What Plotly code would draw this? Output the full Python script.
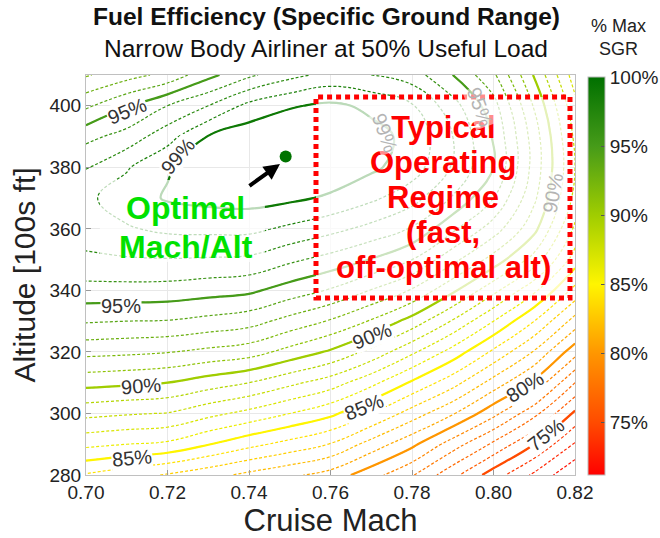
import numpy as np
import plotly.graph_objects as go

# ---- data (% of max SGR) ----
mach = [0.70, 0.71, 0.72, 0.73, 0.74, 0.75, 0.76, 0.77, 0.78, 0.79, 0.80, 0.81, 0.82]
alt = [280, 290, 300, 310, 320, 330, 340, 350, 360, 370, 380, 390, 400, 410]

sgr_m070 = [83.9, 86.25, 88.3, 90.35, 92.3, 94.1, 95.65, 96.8, 97.5, 97.8, 96.95, 95.7, 93.8, 91.9]
sgr_m071 = [83.4, 86.0, 88.1, 90.2, 92.2, 94.0, 95.65, 96.9, 97.9, 98.5, 97.9, 96.4, 94.9, 92.6]
sgr_m072 = [82.9, 85.8, 87.95, 90.0, 92.05, 93.95, 95.6, 96.95, 98.2, 99.1, 98.9, 97.6, 96.0, 93.3]
sgr_m073 = [82.35, 85.05, 87.3, 89.5, 91.75, 93.7, 95.4, 96.9, 98.25, 99.3, 99.5, 99.05, 97.0, 94.7]
sgr_m074 = [81.75, 84.3, 86.7, 89.0, 91.45, 93.4, 95.2, 96.8, 98.25, 99.4, 99.9, 99.6, 98.3, 95.8]
sgr_m075 = [81.2, 83.65, 86.0, 88.25, 90.65, 92.65, 94.55, 96.2, 97.8, 99.2, 99.95, 99.85, 98.9, 96.7]
sgr_m076 = [80.6, 82.95, 85.25, 87.5, 89.85, 91.9, 93.9, 95.65, 97.3, 98.85, 99.7, 99.75, 99.2, 97.3]
sgr_m077 = [79.4, 81.6, 84.0, 86.3, 88.7, 90.9, 92.95, 94.95, 96.7, 98.2, 99.2, 99.3, 98.8, 97.0]
sgr_m078 = [78.1, 80.25, 82.55, 84.85, 87.2, 89.6, 91.9, 94.0, 95.9, 97.4, 98.5, 98.75, 98.1, 96.5]
sgr_m079 = [76.3, 78.5, 81.1, 83.4, 85.6, 87.9, 90.2, 92.3, 94.2, 95.9, 96.9, 97.0, 96.4, 95.0]
sgr_m080 = [74.5, 76.8, 79.3, 81.6, 83.8, 86.0, 88.3, 90.6, 92.5, 94.0, 95.0, 94.9, 94.4, 93.2]
sgr_m081 = [72.8, 75.0, 77.3, 79.8, 81.9, 84.0, 86.2, 88.6, 90.3, 91.2, 91.6, 91.5, 90.9, 89.9]
sgr_m082 = [71.1, 72.9, 74.8, 77.0, 79.4, 81.6, 83.7, 85.5, 86.8, 87.7, 88.0, 87.8, 87.3, 86.5]

opt_mach = [0.749]
opt_alt = [383.5]

x_ticks = [0.70, 0.72, 0.74, 0.76, 0.78, 0.80, 0.82]
y_ticks = [280, 300, 320, 340, 360, 380, 400]
cbar_ticks = [75, 80, 85, 90, 95, 100]
cbar_labels = ["75%", "80%", "85%", "90%", "95%", "100%"]

minor_levels = list(range(72, 100))        # 72 .. 99 (%), dotted
major_levels = [75, 80, 85, 90, 95]         # solid
peak_level = 99                             # solid

# contour label positions (Mach, Alt, level, angle, faded)
label_mach = [0.7101, 0.7226, 0.7086, 0.7135, 0.7113, 0.7702, 0.7683, 0.8077, 0.8128, 0.7734, 0.7967, 0.8146]
label_alt = [398.4, 383.6, 335.0, 309.0, 285.5, 325.2, 302.1, 308.6, 293.0, 391.2, 399.6, 371.6]
label_val = [95, 99, 95, 90, 85, 90, 85, 80, 75, 99, 95, 90]
label_ang = [-22, -50, 0, -4, -5, -22, -22, -32, -38, 70, 70, -80]
label_faint = [0, 0, 0, 0, 0, 0, 0, 0, 0, 1, 1, 1]

# ---- colour map (% value -> rgb) ----
cm_vals = [71.2, 75, 80, 85, 90, 95, 100]
cm_rgb = [(255, 0, 0), (255, 75, 0), (255, 150, 0), (255, 245, 0), (160, 205, 0), (70, 155, 25), (0, 112, 0)]


def cmap(v):
    r = np.interp(v, cm_vals, [c[0] for c in cm_rgb])
    g = np.interp(v, cm_vals, [c[1] for c in cm_rgb])
    b = np.interp(v, cm_vals, [c[2] for c in cm_rgb])
    return "rgb(%d,%d,%d)" % (round(r), round(g), round(b))


def level_scale(levels):
    if len(levels) == 1:
        return [[0, cmap(levels[0])], [1, cmap(levels[0])]]
    lo, hi = levels[0], levels[-1]
    return [[(lv - lo) / (hi - lo), cmap(lv)] for lv in levels]


full_scale = [[(v - cm_vals[0]) / (cm_vals[-1] - cm_vals[0]), cmap(v)] for v in cm_vals]

# ---- build grid ----
columns = [sgr_m070, sgr_m071, sgr_m072, sgr_m073, sgr_m074, sgr_m075, sgr_m076,
           sgr_m077, sgr_m078, sgr_m079, sgr_m080, sgr_m081, sgr_m082]
z = np.array(columns).T  # rows = altitude, cols = mach

FONT = "Liberation Sans, Arial, sans-serif"

fig = go.Figure()


def add_contours(levels, width, dash):
    fig.add_trace(go.Contour(
        x=mach, y=alt, z=z, autocontour=False,
        colorscale=level_scale(levels), showscale=False,
        contours=dict(coloring="lines", start=levels[0], end=levels[-1],
                      size=(levels[1] - levels[0]) if len(levels) > 1 else 1, showlabels=False),
        line=dict(width=width, dash=dash, smoothing=1.2),
        hoverinfo="skip",
    ))


add_contours(minor_levels, 1.2, "3px,2px")
add_contours(major_levels, 2.2, "solid")
add_contours([peak_level], 2.2, "solid")

# optimum point
fig.add_trace(go.Scatter(
    x=opt_mach, y=opt_alt, mode="markers",
    marker=dict(size=12, color="rgb(0,115,0)"),
    hoverinfo="skip", showlegend=False,
))

# continuous colorbar carrier
fig.add_trace(go.Scatter(
    x=opt_mach, y=opt_alt, mode="markers", hoverinfo="skip", showlegend=False,
    marker=dict(size=0.1, opacity=0, color=[cm_vals[0], cm_vals[-1]], cmin=cm_vals[0], cmax=cm_vals[-1],
                colorscale=full_scale, showscale=True,
                colorbar=dict(
                    x=1.0266, xanchor="left", xpad=0, y=0, yanchor="bottom", ypad=0,
                    lenmode="pixels", len=398, thickness=17,
                    outlinecolor="#bbbbbb", outlinewidth=1,
                    tickmode="array", tickvals=cbar_ticks, ticktext=cbar_labels,
                    ticks="inside", ticklen=4, tickcolor="#555555",
                    tickfont=dict(family=FONT, size=19, color="#222222"),
                )),
))

annotations = [
    dict(text="<b>Fuel Efficiency (Specific Ground Range)</b>", xref="paper", yref="paper",
         x=0.4908, y=1.145, xanchor="center", yanchor="middle", showarrow=False,
         font=dict(family=FONT, size=24.5, color="#111111")),
    dict(text="Narrow Body Airliner at 50% Useful Load", xref="paper", yref="paper",
         x=0.4908, y=1.0675, xanchor="center", yanchor="middle", showarrow=False,
         font=dict(family=FONT, size=24.5, color="#111111")),
    dict(text="% Max<br>SGR", xref="paper", yref="paper", x=1.088, y=1.094,
         xanchor="center", yanchor="middle", showarrow=False,
         font=dict(family=FONT, size=18, color="#222222")),
]

red_lines = ["Typical", "Operating", "Regime", "(fast,", "off-optimal alt)"]
red_alt = [393.1, 381.7, 370.35, 358.9, 347.6]
for t, a in zip(red_lines, red_alt):
    annotations.append(dict(text="<b>%s</b>" % t, xref="x", yref="y", x=0.7877, y=a,
                            xanchor="center", yanchor="middle", showarrow=False,
                            font=dict(family=FONT, size=31, color="rgb(255,0,0)")))

green_lines = ["Optimal", "Mach/Alt"]
green_alt = [366.8, 354.1]
for t, a in zip(green_lines, green_alt):
    annotations.append(dict(text="<b>%s</b>" % t, xref="x", yref="y", x=0.7245, y=a,
                            xanchor="center", yanchor="middle", showarrow=False,
                            font=dict(family=FONT, size=32, color="rgb(0,225,0)")))

annotations.append(dict(text="", xref="x", yref="y", x=0.7476, y=381.1, ax=-32, ay=23,
                        showarrow=True, arrowhead=2, arrowsize=0.8, arrowwidth=4, arrowcolor="black"))

for lm, la, lv, ang, faint in zip(label_mach, label_alt, label_val, label_ang, label_faint):
    annotations.append(dict(
        text="%d%%" % lv, xref="x", yref="y", x=lm, y=la, textangle=ang,
        xanchor="center", yanchor="middle", showarrow=False, borderpad=0,
        bgcolor="rgba(255,255,255,0.55)" if faint else "white",
        font=dict(family=FONT, size=20, color="#b4b4b4" if faint else "#333333"),
    ))

fig.update_layout(
    width=660, height=538, autosize=False,
    margin=dict(l=86, r=85, t=75, b=63, autoexpand=False),
    paper_bgcolor="white", plot_bgcolor="white",
    showlegend=False,
    font=dict(family=FONT, color="#222222"),
    xaxis=dict(
        range=[0.70, 0.82], tickvals=x_ticks, tickformat=".2f",
        showgrid=True, gridcolor="#e8e8e8", zeroline=False,
        showline=True, linecolor="#c0c0c0", mirror=True,
        ticks="inside", ticklen=5, tickcolor="#999999",
        tickfont=dict(family=FONT, size=19, color="#222222"),
        title=dict(text="Cruise Mach", font=dict(family=FONT, size=31, color="#222222"), standoff=5),
    ),
    yaxis=dict(
        range=[280, 410], tickvals=y_ticks,
        showgrid=True, gridcolor="#e8e8e8", zeroline=False,
        showline=True, linecolor="#c0c0c0", mirror=True,
        ticks="inside", ticklen=5, tickcolor="#999999",
        tickfont=dict(family=FONT, size=19, color="#222222"),
        title=dict(text="Altitude [100s ft]", font=dict(family=FONT, size=30, color="#222222"), standoff=4),
    ),
    shapes=[
        dict(type="rect", xref="x", yref="y", x0=0.75644, x1=0.81877, y0=337.5, y1=402.85,
             line=dict(color="rgb(255,0,0)", width=5, dash="5px,4px"),
             fillcolor="rgba(255,255,255,0.72)", layer="above"),
        dict(type="rect", xref="x", yref="y", x0=0.7034, x1=0.7439, y0=349.2, y1=375.9,
             line=dict(width=0), fillcolor="rgba(255,255,255,0.72)", layer="above"),
    ],
    annotations=annotations,
)

fig.write_html("out.html")
